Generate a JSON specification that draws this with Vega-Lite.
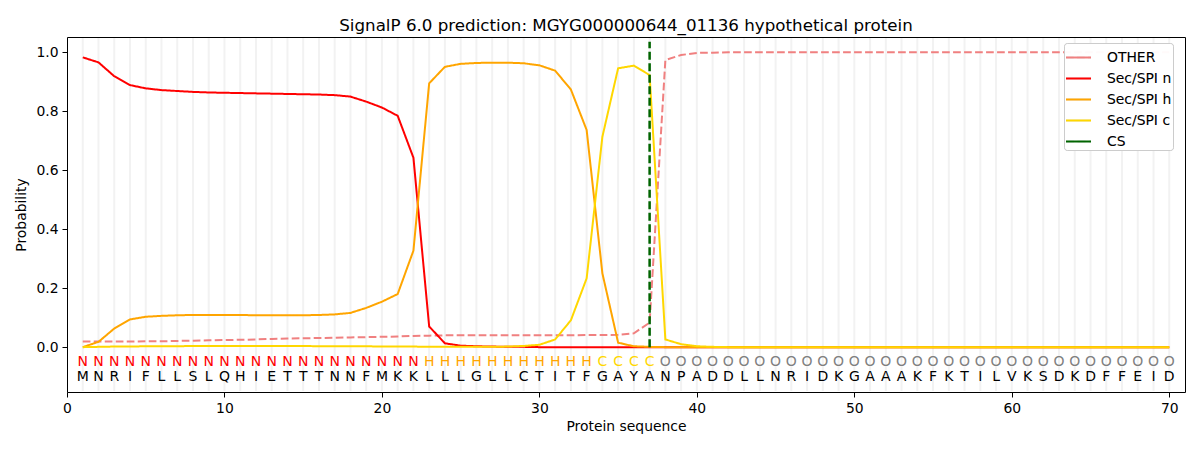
{
  "$schema": "https://vega.github.io/schema/vega-lite/v6.json",
  "title": {
    "text": "SignalP 6.0 prediction: MGYG000000644_01136 hypothetical protein",
    "fontSize": 16.7,
    "font": "DejaVu Sans",
    "fontWeight": "normal",
    "color": "black",
    "anchor": "middle",
    "frame": "group",
    "baseline": "bottom",
    "offset": -15
  },
  "autosize": "none",
  "width": 1118,
  "height": 355,
  "padding": {"left": 67, "top": 37, "right": 15, "bottom": 58},
  "datasets": {
    "residues": [
      {"pos": 1, "aa": "M", "label": "N", "OTHER": 0.019, "Sec/SPI n": 0.982, "Sec/SPI h": 0.0, "Sec/SPI c": 0.0},
      {"pos": 2, "aa": "N", "label": "N", "OTHER": 0.019, "Sec/SPI n": 0.965, "Sec/SPI h": 0.018, "Sec/SPI c": 0.001},
      {"pos": 3, "aa": "R", "label": "N", "OTHER": 0.019, "Sec/SPI n": 0.918, "Sec/SPI h": 0.063, "Sec/SPI c": 0.002},
      {"pos": 4, "aa": "I", "label": "N", "OTHER": 0.019, "Sec/SPI n": 0.888, "Sec/SPI h": 0.094, "Sec/SPI c": 0.002},
      {"pos": 5, "aa": "F", "label": "N", "OTHER": 0.02, "Sec/SPI n": 0.877, "Sec/SPI h": 0.103, "Sec/SPI c": 0.003},
      {"pos": 6, "aa": "L", "label": "N", "OTHER": 0.02, "Sec/SPI n": 0.871, "Sec/SPI h": 0.106, "Sec/SPI c": 0.003},
      {"pos": 7, "aa": "L", "label": "N", "OTHER": 0.021, "Sec/SPI n": 0.868, "Sec/SPI h": 0.108, "Sec/SPI c": 0.003},
      {"pos": 8, "aa": "S", "label": "N", "OTHER": 0.022, "Sec/SPI n": 0.865, "Sec/SPI h": 0.109, "Sec/SPI c": 0.004},
      {"pos": 9, "aa": "L", "label": "N", "OTHER": 0.023, "Sec/SPI n": 0.863, "Sec/SPI h": 0.109, "Sec/SPI c": 0.004},
      {"pos": 10, "aa": "Q", "label": "N", "OTHER": 0.024, "Sec/SPI n": 0.862, "Sec/SPI h": 0.109, "Sec/SPI c": 0.004},
      {"pos": 11, "aa": "H", "label": "N", "OTHER": 0.025, "Sec/SPI n": 0.861, "Sec/SPI h": 0.109, "Sec/SPI c": 0.004},
      {"pos": 12, "aa": "I", "label": "N", "OTHER": 0.026, "Sec/SPI n": 0.86, "Sec/SPI h": 0.108, "Sec/SPI c": 0.004},
      {"pos": 13, "aa": "E", "label": "N", "OTHER": 0.028, "Sec/SPI n": 0.859, "Sec/SPI h": 0.108, "Sec/SPI c": 0.004},
      {"pos": 14, "aa": "T", "label": "N", "OTHER": 0.029, "Sec/SPI n": 0.858, "Sec/SPI h": 0.108, "Sec/SPI c": 0.004},
      {"pos": 15, "aa": "T", "label": "N", "OTHER": 0.03, "Sec/SPI n": 0.857, "Sec/SPI h": 0.108, "Sec/SPI c": 0.004},
      {"pos": 16, "aa": "T", "label": "N", "OTHER": 0.031, "Sec/SPI n": 0.856, "Sec/SPI h": 0.109, "Sec/SPI c": 0.003},
      {"pos": 17, "aa": "N", "label": "N", "OTHER": 0.032, "Sec/SPI n": 0.854, "Sec/SPI h": 0.111, "Sec/SPI c": 0.003},
      {"pos": 18, "aa": "N", "label": "N", "OTHER": 0.033, "Sec/SPI n": 0.849, "Sec/SPI h": 0.116, "Sec/SPI c": 0.003},
      {"pos": 19, "aa": "F", "label": "N", "OTHER": 0.034, "Sec/SPI n": 0.832, "Sec/SPI h": 0.133, "Sec/SPI c": 0.003},
      {"pos": 20, "aa": "M", "label": "N", "OTHER": 0.035, "Sec/SPI n": 0.812, "Sec/SPI h": 0.154, "Sec/SPI c": 0.002},
      {"pos": 21, "aa": "K", "label": "N", "OTHER": 0.036, "Sec/SPI n": 0.784, "Sec/SPI h": 0.18, "Sec/SPI c": 0.002},
      {"pos": 22, "aa": "K", "label": "N", "OTHER": 0.038, "Sec/SPI n": 0.642, "Sec/SPI h": 0.327, "Sec/SPI c": 0.002},
      {"pos": 23, "aa": "L", "label": "H", "OTHER": 0.039, "Sec/SPI n": 0.07, "Sec/SPI h": 0.894, "Sec/SPI c": 0.001},
      {"pos": 24, "aa": "L", "label": "H", "OTHER": 0.04, "Sec/SPI n": 0.013, "Sec/SPI h": 0.95, "Sec/SPI c": 0.001},
      {"pos": 25, "aa": "L", "label": "H", "OTHER": 0.04, "Sec/SPI n": 0.005, "Sec/SPI h": 0.96, "Sec/SPI c": 0.001},
      {"pos": 26, "aa": "G", "label": "H", "OTHER": 0.04, "Sec/SPI n": 0.003, "Sec/SPI h": 0.963, "Sec/SPI c": 0.001},
      {"pos": 27, "aa": "L", "label": "H", "OTHER": 0.04, "Sec/SPI n": 0.002, "Sec/SPI h": 0.964, "Sec/SPI c": 0.001},
      {"pos": 28, "aa": "L", "label": "H", "OTHER": 0.04, "Sec/SPI n": 0.001, "Sec/SPI h": 0.964, "Sec/SPI c": 0.002},
      {"pos": 29, "aa": "C", "label": "H", "OTHER": 0.04, "Sec/SPI n": 0.001, "Sec/SPI h": 0.962, "Sec/SPI c": 0.004},
      {"pos": 30, "aa": "T", "label": "H", "OTHER": 0.04, "Sec/SPI n": 0.0, "Sec/SPI h": 0.955, "Sec/SPI c": 0.008},
      {"pos": 31, "aa": "I", "label": "H", "OTHER": 0.04, "Sec/SPI n": 0.0, "Sec/SPI h": 0.937, "Sec/SPI c": 0.026},
      {"pos": 32, "aa": "T", "label": "H", "OTHER": 0.04, "Sec/SPI n": 0.0, "Sec/SPI h": 0.873, "Sec/SPI c": 0.091},
      {"pos": 33, "aa": "F", "label": "H", "OTHER": 0.041, "Sec/SPI n": 0.0, "Sec/SPI h": 0.736, "Sec/SPI c": 0.233},
      {"pos": 34, "aa": "G", "label": "C", "OTHER": 0.041, "Sec/SPI n": 0.0, "Sec/SPI h": 0.25, "Sec/SPI c": 0.713},
      {"pos": 35, "aa": "A", "label": "C", "OTHER": 0.042, "Sec/SPI n": 0.0, "Sec/SPI h": 0.015, "Sec/SPI c": 0.945},
      {"pos": 36, "aa": "Y", "label": "C", "OTHER": 0.047, "Sec/SPI n": 0.0, "Sec/SPI h": 0.003, "Sec/SPI c": 0.954},
      {"pos": 37, "aa": "A", "label": "C", "OTHER": 0.083, "Sec/SPI n": 0.0, "Sec/SPI h": 0.001, "Sec/SPI c": 0.922},
      {"pos": 38, "aa": "N", "label": "O", "OTHER": 0.973, "Sec/SPI n": 0.0, "Sec/SPI h": 0.0, "Sec/SPI c": 0.026},
      {"pos": 39, "aa": "P", "label": "O", "OTHER": 0.99, "Sec/SPI n": 0.0, "Sec/SPI h": 0.0, "Sec/SPI c": 0.01},
      {"pos": 40, "aa": "A", "label": "O", "OTHER": 0.997, "Sec/SPI n": 0.0, "Sec/SPI h": 0.0, "Sec/SPI c": 0.003},
      {"pos": 41, "aa": "D", "label": "O", "OTHER": 0.998, "Sec/SPI n": 0.0, "Sec/SPI h": 0.0, "Sec/SPI c": 0.001},
      {"pos": 42, "aa": "D", "label": "O", "OTHER": 0.999, "Sec/SPI n": 0.0, "Sec/SPI h": 0.0, "Sec/SPI c": 0.0},
      {"pos": 43, "aa": "L", "label": "O", "OTHER": 0.999, "Sec/SPI n": 0.0, "Sec/SPI h": 0.0, "Sec/SPI c": 0.0},
      {"pos": 44, "aa": "L", "label": "O", "OTHER": 0.999, "Sec/SPI n": 0.0, "Sec/SPI h": 0.0, "Sec/SPI c": 0.0},
      {"pos": 45, "aa": "N", "label": "O", "OTHER": 0.999, "Sec/SPI n": 0.0, "Sec/SPI h": 0.0, "Sec/SPI c": 0.0},
      {"pos": 46, "aa": "R", "label": "O", "OTHER": 0.999, "Sec/SPI n": 0.0, "Sec/SPI h": 0.0, "Sec/SPI c": 0.0},
      {"pos": 47, "aa": "I", "label": "O", "OTHER": 0.999, "Sec/SPI n": 0.0, "Sec/SPI h": 0.0, "Sec/SPI c": 0.0},
      {"pos": 48, "aa": "D", "label": "O", "OTHER": 0.999, "Sec/SPI n": 0.0, "Sec/SPI h": 0.0, "Sec/SPI c": 0.0},
      {"pos": 49, "aa": "K", "label": "O", "OTHER": 0.999, "Sec/SPI n": 0.0, "Sec/SPI h": 0.0, "Sec/SPI c": 0.0},
      {"pos": 50, "aa": "G", "label": "O", "OTHER": 0.999, "Sec/SPI n": 0.0, "Sec/SPI h": 0.0, "Sec/SPI c": 0.0},
      {"pos": 51, "aa": "A", "label": "O", "OTHER": 0.999, "Sec/SPI n": 0.0, "Sec/SPI h": 0.0, "Sec/SPI c": 0.0},
      {"pos": 52, "aa": "A", "label": "O", "OTHER": 0.999, "Sec/SPI n": 0.0, "Sec/SPI h": 0.0, "Sec/SPI c": 0.0},
      {"pos": 53, "aa": "A", "label": "O", "OTHER": 0.999, "Sec/SPI n": 0.0, "Sec/SPI h": 0.0, "Sec/SPI c": 0.0},
      {"pos": 54, "aa": "K", "label": "O", "OTHER": 0.999, "Sec/SPI n": 0.0, "Sec/SPI h": 0.0, "Sec/SPI c": 0.0},
      {"pos": 55, "aa": "F", "label": "O", "OTHER": 0.999, "Sec/SPI n": 0.0, "Sec/SPI h": 0.0, "Sec/SPI c": 0.0},
      {"pos": 56, "aa": "K", "label": "O", "OTHER": 0.999, "Sec/SPI n": 0.0, "Sec/SPI h": 0.0, "Sec/SPI c": 0.0},
      {"pos": 57, "aa": "T", "label": "O", "OTHER": 0.999, "Sec/SPI n": 0.0, "Sec/SPI h": 0.0, "Sec/SPI c": 0.0},
      {"pos": 58, "aa": "I", "label": "O", "OTHER": 0.999, "Sec/SPI n": 0.0, "Sec/SPI h": 0.0, "Sec/SPI c": 0.0},
      {"pos": 59, "aa": "L", "label": "O", "OTHER": 0.999, "Sec/SPI n": 0.0, "Sec/SPI h": 0.0, "Sec/SPI c": 0.0},
      {"pos": 60, "aa": "V", "label": "O", "OTHER": 0.999, "Sec/SPI n": 0.0, "Sec/SPI h": 0.0, "Sec/SPI c": 0.0},
      {"pos": 61, "aa": "K", "label": "O", "OTHER": 0.999, "Sec/SPI n": 0.0, "Sec/SPI h": 0.0, "Sec/SPI c": 0.0},
      {"pos": 62, "aa": "S", "label": "O", "OTHER": 0.999, "Sec/SPI n": 0.0, "Sec/SPI h": 0.0, "Sec/SPI c": 0.0},
      {"pos": 63, "aa": "D", "label": "O", "OTHER": 0.999, "Sec/SPI n": 0.0, "Sec/SPI h": 0.0, "Sec/SPI c": 0.0},
      {"pos": 64, "aa": "K", "label": "O", "OTHER": 0.999, "Sec/SPI n": 0.0, "Sec/SPI h": 0.0, "Sec/SPI c": 0.0},
      {"pos": 65, "aa": "D", "label": "O", "OTHER": 0.999, "Sec/SPI n": 0.0, "Sec/SPI h": 0.0, "Sec/SPI c": 0.0},
      {"pos": 66, "aa": "F", "label": "O", "OTHER": 0.999, "Sec/SPI n": 0.0, "Sec/SPI h": 0.0, "Sec/SPI c": 0.0},
      {"pos": 67, "aa": "F", "label": "O", "OTHER": 0.999, "Sec/SPI n": 0.0, "Sec/SPI h": 0.0, "Sec/SPI c": 0.0},
      {"pos": 68, "aa": "E", "label": "O", "OTHER": 0.999, "Sec/SPI n": 0.0, "Sec/SPI h": 0.0, "Sec/SPI c": 0.0},
      {"pos": 69, "aa": "I", "label": "O", "OTHER": 0.999, "Sec/SPI n": 0.0, "Sec/SPI h": 0.0, "Sec/SPI c": 0.0},
      {"pos": 70, "aa": "D", "label": "O", "OTHER": 0.999, "Sec/SPI n": 0.0, "Sec/SPI h": 0.0, "Sec/SPI c": 0.0}
    ],
    "cleavage": [
      {"pos": 37, "series": "CS", "p": 0.0},
      {"pos": 37, "series": "CS", "p": 1.035}
    ]
  },
  "layer": [
    {
      "data": {"name": "residues"},
      "mark": {"type": "rule", "color": "#f2f2f2", "strokeWidth": 2},
      "encoding": {
        "x": {
          "field": "pos",
          "type": "quantitative",
          "scale": {"domain": [0, 71], "nice": false, "zero": false},
          "axis": {"values": [0, 10, 20, 30, 40, 50, 60, 70], "title": "Protein sequence", "grid": false}
        },
        "y": {
          "datum": 1.048,
          "type": "quantitative",
          "scale": {"domain": [-0.152, 1.051], "nice": false, "zero": false},
          "axis": {"values": [0, 0.2, 0.4, 0.6, 0.8, 1.0], "format": ".1f", "title": "Probability", "grid": false}
        },
        "y2": {"datum": -0.149}
      }
    },
    {
      "layer": [
        {
          "data": {"name": "residues"},
          "transform": [
            {"fold": ["OTHER", "Sec/SPI n", "Sec/SPI h", "Sec/SPI c"], "as": ["series", "p"]}
          ],
          "mark": {"type": "line", "strokeWidth": 2},
          "encoding": {
            "x": {"field": "pos", "type": "quantitative"},
            "y": {"field": "p", "type": "quantitative"},
            "color": {"field": "series", "type": "nominal"},
            "strokeDash": {"field": "series", "type": "nominal"},
            "order": {"field": "pos"}
          }
        },
        {
          "data": {"name": "cleavage"},
          "mark": {"type": "line", "strokeWidth": 2.5},
          "encoding": {
            "x": {"field": "pos", "type": "quantitative"},
            "y": {"field": "p", "type": "quantitative"},
            "color": {"field": "series", "type": "nominal"},
            "strokeDash": {"field": "series", "type": "nominal"}
          }
        }
      ],
      "encoding": {
        "color": {
          "field": "series",
          "type": "nominal",
          "scale": {
            "domain": ["OTHER", "Sec/SPI n", "Sec/SPI h", "Sec/SPI c", "CS"],
            "range": ["#f08080", "#ff0000", "#ffa500", "#ffd700", "#006400"]
          },
          "legend": {"title": null}
        },
        "strokeDash": {
          "field": "series",
          "type": "nominal",
          "scale": {
            "domain": ["OTHER", "Sec/SPI n", "Sec/SPI h", "Sec/SPI c", "CS"],
            "range": [[7.7, 3.3], [1, 0], [1, 0], [1, 0], [8, 3.5]]
          },
          "legend": {"title": null}
        }
      }
    },
    {
      "data": {"name": "residues"},
      "mark": {"type": "text", "font": "DejaVu Sans", "fontSize": 14, "baseline": "middle"},
      "encoding": {
        "x": {"field": "pos", "type": "quantitative"},
        "y": {"datum": -0.051, "type": "quantitative"},
        "text": {"field": "label", "type": "nominal"},
        "color": {
          "field": "label",
          "type": "nominal",
          "scale": {"domain": ["N", "H", "C", "O"], "range": ["#ff0000", "#ffa500", "#ffd700", "#808080"]},
          "legend": null
        }
      }
    },
    {
      "data": {"name": "residues"},
      "mark": {"type": "text", "font": "DejaVu Sans", "fontSize": 14, "baseline": "middle", "color": "#000000"},
      "encoding": {
        "x": {"field": "pos", "type": "quantitative"},
        "y": {"datum": -0.101, "type": "quantitative"},
        "text": {"field": "aa", "type": "nominal"}
      }
    }
  ],
  "resolve": {"scale": {"color": "independent"}},
  "config": {
    "background": "white",
    "font": "DejaVu Sans",
    "view": {"stroke": "black", "strokeWidth": 1},
    "axis": {
      "labelFont": "DejaVu Sans",
      "labelFontSize": 13.9,
      "labelColor": "black",
      "titleFont": "DejaVu Sans",
      "titleFontSize": 13.9,
      "titleFontWeight": "normal",
      "titleColor": "black",
      "tickColor": "black",
      "tickSize": 5,
      "labelPadding": 4,
      "domain": false
    },
    "axisX": {"titlePadding": 5, "labelFlush": false},
    "axisY": {"titlePadding": 7},
    "legend": {
      "orient": "none",
      "legendX": 997,
      "legendY": 6,
      "symbolType": "stroke",
      "symbolSize": 625,
      "symbolStrokeWidth": 2,
      "labelFont": "DejaVu Sans",
      "labelFontSize": 13.9,
      "labelColor": "black",
      "labelOffset": 15,
      "padding": 1,
      "rowPadding": -1,
      "fillColor": "rgba(255,255,255,0.8)",
      "strokeColor": "#cccccc",
      "cornerRadius": 3
    }
  }
}
